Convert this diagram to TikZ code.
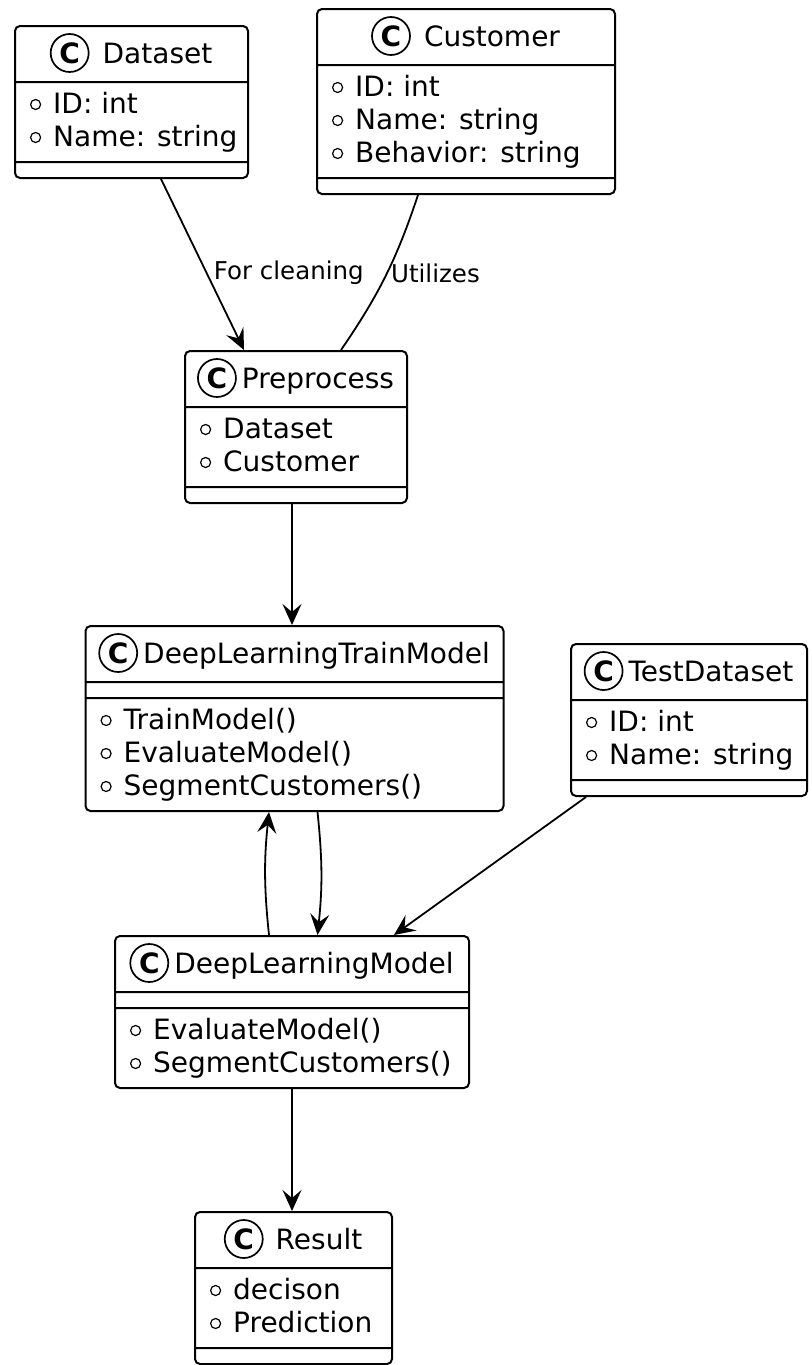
\documentclass[tikz,border=0pt]{standalone}
\usepackage{fontspec}
\setmainfont{DejaVu Sans}
\usetikzlibrary{shapes.multipart,arrows.meta}

\newcommand{\classfont}{\fontsize{28pt}{33pt}\selectfont}
\newcommand{\lblfont}{\fontsize{24.5pt}{28pt}\selectfont}
% circled C in front of every class name
\newcommand{\classicon}{\makebox[38pt][c]{\tikz[baseline=0pt]\draw[line width=1.7pt] (0pt,10pt) circle[radius=19pt];}\hspace{-38pt}\makebox[38pt][c]{\bfseries C}}
\newcommand{\classhead}[2][6pt]{\rule[-18pt]{0pt}{54pt}\classicon\hspace{#1}#2}
% hollow circle before each member
\newcommand{\pub}{\hspace{8.5pt}\tikz[baseline=0pt]\draw[line width=1.2pt] (5pt,8.5pt) circle[radius=5pt];\hspace{12pt}}
\newcommand{\firstrow}{\rule{0pt}{30pt}}
\newcommand{\lastrow}{\rule[-15pt]{0pt}{15pt}}
\newcommand{\emptyrow}{\rule{0pt}{14pt}}

\begin{document}
\begin{tikzpicture}[
    x=1pt, y=-1pt,
    umlclass/.style={
      rectangle split,
      rectangle split parts=3,
      rectangle split part align={center,left,left},
      draw,
      line width=2pt,
      rounded corners=5pt,
      inner xsep=6.5pt,
      inner ysep=0pt,
      anchor=north west,
      align=left,
      font=\classfont
    },
    assoc/.style={line width=1.8pt},
    arr/.style={assoc, -{Stealth[length=21pt,width=19pt,inset=8pt]}},
    lbl/.style={font=\lblfont, inner sep=0pt, anchor=base west}
  ]
  \useasboundingbox (0,0) rectangle (811,1365);

  % Input classes
  \node[umlclass, minimum width=233pt] (dataset) at (14,25) {\classhead[14pt]{Dataset}
    \nodepart{two}\firstrow\pub ID: int\\\pub Name: string\lastrow
    \nodepart{three}\emptyrow};

  \node[umlclass, minimum width=298pt] (customer) at (316,8) {\classhead[14pt]{Customer}
    \nodepart{two}\firstrow\pub ID: int\\\pub Name: string\\\pub Behavior: string\lastrow
    \nodepart{three}\emptyrow};

  % Preprocessing step
  \node[umlclass, minimum width=222pt] (pre) at (184,350) {\classhead{Preprocess}
    \nodepart{two}\firstrow\pub Dataset\\\pub Customer\lastrow
    \nodepart{three}\emptyrow};

  % Training and test data
  \node[umlclass, minimum width=418pt] (dltm) at (84.5,625) {\classhead{DeepLearningTrainModel}
    \nodepart{two}\emptyrow
    \nodepart{three}\firstrow\pub TrainModel()\\\pub EvaluateModel()\\\pub SegmentCustomers()\lastrow};

  \node[umlclass, minimum width=236pt] (testds) at (570,643) {\classhead{TestDataset}
    \nodepart{two}\firstrow\pub ID: int\\\pub Name: string\lastrow
    \nodepart{three}\emptyrow};

  % Model and its output
  \node[umlclass, minimum width=354pt] (dlm) at (114,935) {\classhead{DeepLearningModel}
    \nodepart{two}\emptyrow
    \nodepart{three}\firstrow\pub EvaluateModel()\\\pub SegmentCustomers()\lastrow};

  \node[umlclass, minimum width=197pt] (result) at (194,1211) {\classhead[13pt]{Result}
    \nodepart{two}\firstrow\pub decison\\\pub Prediction\lastrow
    \nodepart{three}\emptyrow};

  % Connectors
  \draw[arr] ([xshift=29.5pt]dataset.south) -- node[lbl, pos=0.59, xshift=3pt] {For cleaning} ([xshift=-52pt]pre.north);
  \draw[assoc] ([xshift=-48pt]customer.south) to[bend left=8] node[lbl, pos=0.55, xshift=8pt] {Utilizes} ([xshift=45pt]pre.north);
  \draw[arr] ([xshift=-4pt]pre.south) -- ([xshift=-2.5pt]dltm.north);
  \draw[arr] ([xshift=-23pt]dlm.north) to[bend left=6] ([xshift=-25.5pt]dltm.south);
  \draw[arr] ([xshift=23pt]dltm.south) to[bend left=6] ([xshift=25.5pt]dlm.north);
  \draw[arr] ([xshift=-103pt]testds.south) -- ([xshift=102pt]dlm.north);
  \draw[arr] (dlm.south) -- ([xshift=-1.5pt]result.north);
\end{tikzpicture}
\end{document}
